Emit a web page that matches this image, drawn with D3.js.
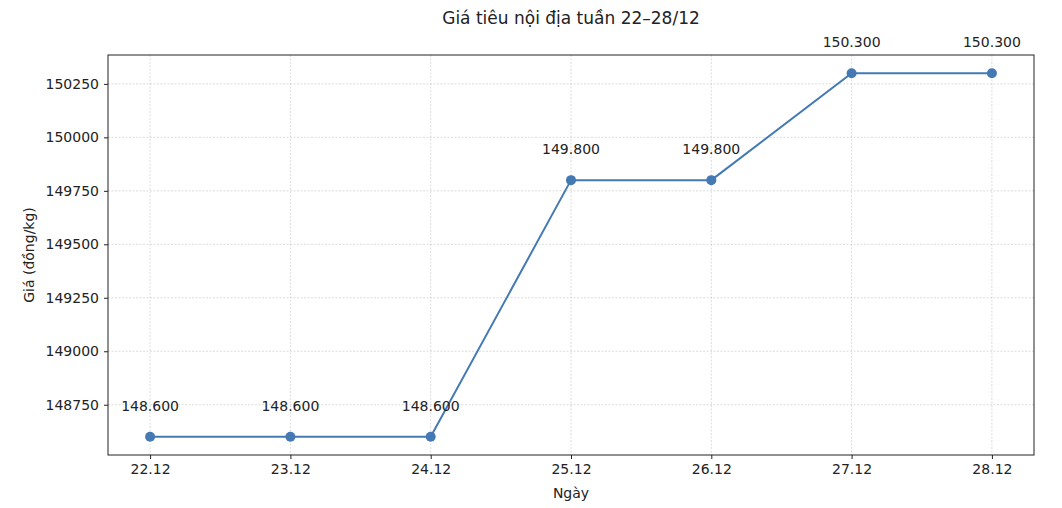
<!DOCTYPE html>
<html>
<head>
<meta charset="utf-8">
<script src="https://cdn.jsdelivr.net/npm/d3@7"></script>
<style>
  body { margin: 0; background: #fff; }
  svg text { font-family: "DejaVu Sans", sans-serif; fill: #222; }
</style>
</head>
<body>
<div id="chart"></div>
<script>
// data
const days = ["22.12", "23.12", "24.12", "25.12", "26.12", "27.12", "28.12"];
const prices = [148600, 148600, 148600, 149800, 149800, 150300, 150300];
const priceLabels = ["148.600", "148.600", "148.600", "149.800", "149.800", "150.300", "150.300"];
const yTicks = [148750, 149000, 149250, 149500, 149750, 150000, 150250];

const W = 1062, H = 508;
const margin = {top: 55, right: 28, bottom: 53, left: 108};
const width = W - margin.left - margin.right;
const height = H - margin.top - margin.bottom;
const color = "#4479b4";

const svg = d3.select("#chart").append("svg")
    .attr("width", W).attr("height", H);

const g = svg.append("g")
    .attr("transform", `translate(${margin.left},${margin.top})`);

// matplotlib-like 5% margins
const xIdx = days.map((d, i) => i);
const xPad = (days.length - 1) * 0.05;
const x = d3.scaleLinear()
    .domain([-xPad, days.length - 1 + xPad])
    .range([0, width]);

const yMin = d3.min(prices), yMax = d3.max(prices);
const yPad = (yMax - yMin) * 0.05;
const y = d3.scaleLinear()
    .domain([yMin - yPad, yMax + yPad])
    .range([height, 0]);

// grid
g.append("g").selectAll("line.gx")
    .data(xIdx).join("line")
    .attr("x1", d => x(d)).attr("x2", d => x(d))
    .attr("y1", 0).attr("y2", height)
    .attr("stroke", "#c4c4c4").attr("stroke-width", 0.6)
    .attr("stroke-dasharray", "2,1.5");

g.append("g").selectAll("line.gy")
    .data(yTicks).join("line")
    .attr("x1", 0).attr("x2", width)
    .attr("y1", d => y(d)).attr("y2", d => y(d))
    .attr("stroke", "#c4c4c4").attr("stroke-width", 0.6)
    .attr("stroke-dasharray", "2,1.5");

// axes
const xAxis = d3.axisBottom(x)
    .tickValues(xIdx)
    .tickFormat(i => days[i])
    .tickSize(4).tickPadding(5);
const yAxis = d3.axisLeft(y)
    .tickValues(yTicks)
    .tickFormat(d3.format("d"))
    .tickSize(4).tickPadding(5);

const xg = g.append("g").attr("transform", `translate(0,${height})`).call(xAxis);
const yg = g.append("g").call(yAxis);
[xg, yg].forEach(a => {
    a.select(".domain").remove();
    a.selectAll(".tick line").attr("stroke", "#222");
    a.selectAll(".tick text").attr("font-size", 14).style("fill", "#222");
});

// frame
g.append("rect")
    .attr("width", width).attr("height", height)
    .attr("fill", "none").attr("stroke", "#222").attr("stroke-width", 1);

// line
const line = d3.line()
    .x((d, i) => x(i))
    .y(d => y(d));

g.append("path")
    .datum(prices)
    .attr("fill", "none")
    .attr("stroke", color)
    .attr("stroke-width", 2)
    .attr("d", line);

g.selectAll("circle.pt")
    .data(prices).join("circle")
    .attr("cx", (d, i) => x(i))
    .attr("cy", d => y(d))
    .attr("r", 5)
    .attr("fill", color);

// value labels
g.selectAll("text.val")
    .data(prices).join("text")
    .attr("x", (d, i) => x(i))
    .attr("y", d => y(d) - 26)
    .attr("text-anchor", "middle")
    .attr("font-size", 14)
    .text((d, i) => priceLabels[i]);

// titles
svg.append("text")
    .attr("x", margin.left + width / 2)
    .attr("y", 24)
    .attr("text-anchor", "middle")
    .attr("font-size", 17)
    .text("Giá tiêu nội địa tuần 22–28/12");

svg.append("text")
    .attr("x", margin.left + width / 2)
    .attr("y", 498)
    .attr("text-anchor", "middle")
    .attr("font-size", 14)
    .text("Ngày");

svg.append("text")
    .attr("transform", `translate(34,${margin.top + height / 2}) rotate(-90)`)
    .attr("text-anchor", "middle")
    .attr("font-size", 14)
    .text("Giá (đồng/kg)");
</script>
</body>
</html>
